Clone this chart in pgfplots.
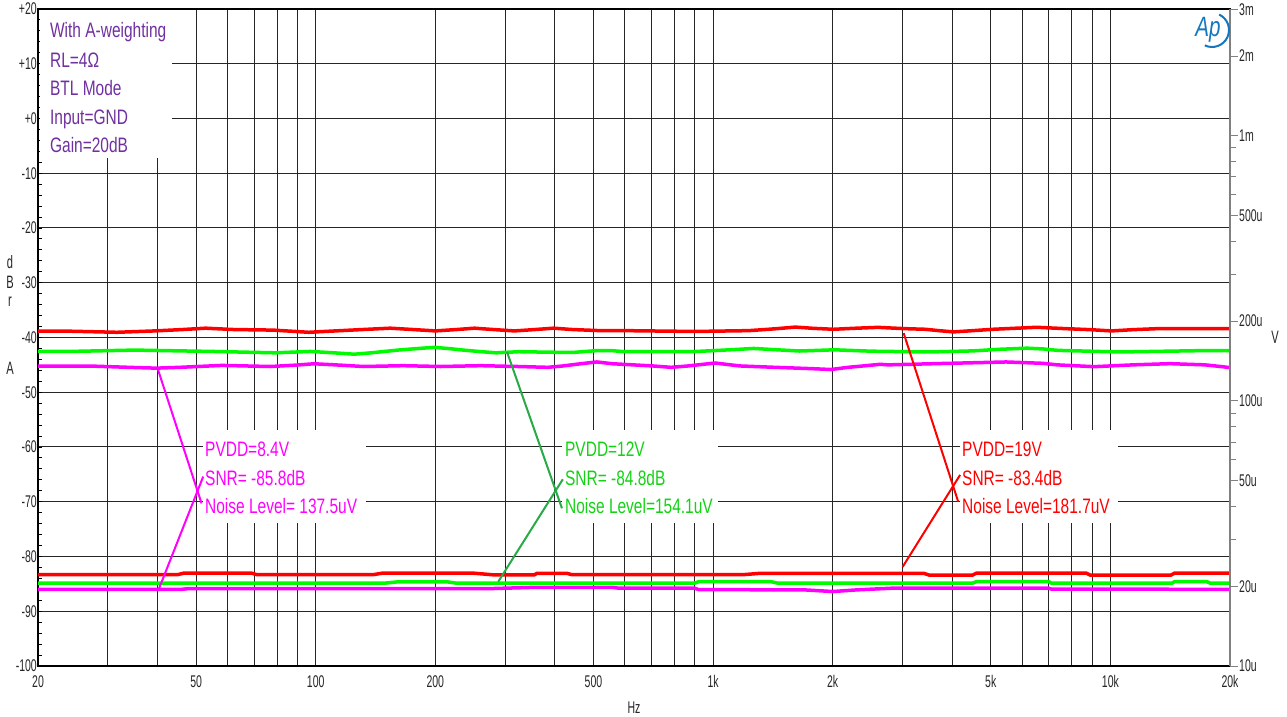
\documentclass[border=0pt]{standalone}
\usepackage{pgfplots}
\pgfplotsset{compat=1.18}
\usepackage{fontspec}
\setmainfont{Liberation Sans}[FakeStretch=0.74]
\newfontfamily\tickfont{Liberation Sans}[FakeStretch=0.62]
\definecolor{apred}{RGB}{255,0,0}
\definecolor{apgreen}{RGB}{0,250,0}
\definecolor{apmag}{RGB}{255,0,255}
\definecolor{txtgreen}{RGB}{20,210,20}
\definecolor{leadgreen}{RGB}{40,170,70}
\definecolor{purp}{RGB}{112,48,160}
\definecolor{apblue}{RGB}{20,120,190}
\begin{document}
\begin{tikzpicture}[x=1bp,y=1bp]
\path[use as bounding box] (-38,-51) rectangle (1249,666);
\begin{axis}[
  at={(0,0)}, anchor=south west,
  scale only axis, width=1192bp, height=657bp,
  xmode=log, xmin=20, xmax=20000, ymin=-100, ymax=20,
  xtick={20,50,100,200,500,1000,2000,5000,10000,20000},
  xticklabels={20,50,100,200,500,1k,2k,5k,10k,20k},
  minor xtick={30,40,60,70,80,90,300,400,600,700,800,900,3000,4000,6000,7000,8000,9000},
  ytick={-100,-90,-80,-70,-60,-50,-40,-30,-20,-10,0,10,20},
  yticklabels={-100,-90,-80,-70,-60,-50,-40,-30,-20,-10,+0,+10,+20},
  minor y tick num=4,
  xmajorgrids, xminorgrids, ymajorgrids,
  major grid style={black!85, line width=1bp},
  minor grid style={black!85, line width=1bp},
  tick align=inside,
  xtick style={draw=none},
  ytick style={black, line width=0.9bp},
  major tick length=4bp, minor tick length=4bp,
  ytick pos=left, xtick pos=bottom,
  axis line style={black, line width=1.2bp},
  xticklabel style={font=\tickfont\fontsize{17}{17}\selectfont, yshift=-6bp, text=black!85},
  yticklabel style={font=\tickfont\fontsize{17}{17}\selectfont, inner sep=1bp, text=black!85},
  clip=true,
]
% top-left info box
\fill[white] (rel axis cs:0.0015,0.7732) rectangle (rel axis cs:0.1124,0.998);
\node[anchor=base west, text=purp, font=\fontsize{21}{21}\selectfont, inner sep=0pt] at (rel axis cs:0.010,0.9566) {With A-weighting};
\node[anchor=base west, text=purp, font=\fontsize{21}{21}\selectfont, inner sep=0pt] at (rel axis cs:0.010,0.9110) {RL=4Ω};
\node[anchor=base west, text=purp, font=\fontsize{21}{21}\selectfont, inner sep=0pt] at (rel axis cs:0.010,0.8684) {BTL Mode};
\node[anchor=base west, text=purp, font=\fontsize{21}{21}\selectfont, inner sep=0pt] at (rel axis cs:0.010,0.8242) {Input=GND};
\node[anchor=base west, text=purp, font=\fontsize{21}{21}\selectfont, inner sep=0pt] at (rel axis cs:0.010,0.7816) {Gain=20dB};
% annotation boxes
\fill[white] (rel axis cs:0.1384,0.2177) rectangle (rel axis cs:0.2752,0.3592);
\fill[white] (rel axis cs:0.4396,0.2177) rectangle (rel axis cs:0.5705,0.3592);
\fill[white] (rel axis cs:0.7735,0.2177) rectangle (rel axis cs:0.9060,0.3592);
% series
\addplot[apred, line width=3.5bp] coordinates {(20,-38.85) (24,-38.85) (31.6,-39.05) (39.3,-38.8) (46.2,-38.55) (52.8,-38.3) (62.3,-38.55) (78,-38.65) (96,-39.05) (112,-38.8) (131,-38.55) (154,-38.3) (176,-38.55) (200,-38.8) (226,-38.55) (251,-38.3) (280,-38.55) (316,-38.8) (356,-38.55) (397,-38.3) (443,-38.55) (520,-38.75) (600,-38.75) (900,-38.9) (1230,-38.75) (1380,-38.5) (1480,-38.33) (1610,-38.1) (1790,-38.33) (2010,-38.5) (2250,-38.33) (2600,-38.15) (3020,-38.38) (3420,-38.5) (3700,-38.75) (4030,-38.98) (4510,-38.75) (5070,-38.5) (5700,-38.33) (6520,-38.14) (7690,-38.38) (8890,-38.57) (10070,-38.8) (11400,-38.57) (13000,-38.4) (20000,-38.4)};
\addplot[apgreen, line width=3.5bp] coordinates {(20,-42.55) (24,-42.55) (35,-42.3) (55,-42.55) (79,-42.8) (97,-42.55) (111,-42.8) (125,-43.05) (138,-42.8) (149,-42.55) (161,-42.3) (178,-42.05) (199,-41.8) (218,-42.05) (235,-42.3) (257,-42.55) (284,-42.8) (324,-42.6) (400,-42.7) (450,-42.7) (505,-42.42) (560,-42.42) (600,-42.6) (880,-42.6) (990,-42.42) (1135,-42.2) (1265,-42.0) (1410,-42.2) (1650,-42.47) (2020,-42.25) (2500,-42.5) (3500,-42.65) (4500,-42.45) (5280,-42.15) (6170,-41.95) (6790,-42.1) (7360,-42.35) (10500,-42.65) (17000,-42.4) (20000,-42.4)};
\addplot[apmag, line width=3.5bp] coordinates {(20,-45.25) (28,-45.25) (35.5,-45.5) (39.7,-45.6) (45.5,-45.45) (58,-45.1) (77,-45.3) (89,-45.05) (99,-44.8) (112,-45.0) (132,-45.3) (166,-45.15) (206,-45.3) (260,-45.15) (323,-45.3) (384,-45.45) (419,-45.2) (452,-44.9) (482,-44.66) (510,-44.47) (560,-44.8) (629,-45.0) (706,-45.2) (784,-45.45) (865,-45.2) (944,-44.9) (1012,-44.66) (1078,-44.9) (1169,-45.2) (1433,-45.45) (1785,-45.7) (1981,-45.85) (2187,-45.45) (2385,-45.2) (2633,-44.9) (2760,-45.0) (3620,-44.78) (5465,-44.47) (6770,-44.72) (7340,-45.0) (9100,-45.33) (11400,-45.0) (14130,-44.78) (17310,-45.0) (19100,-45.33) (20000,-45.5)};
\addplot[apred, line width=3.5bp] coordinates {(20,-83.3) (45,-83.3) (46.5,-83.05) (69,-83.05) (71,-83.3) (140,-83.3) (147,-83.05) (250,-83.05) (280,-83.35) (355,-83.35) (360,-83.1) (430,-83.1) (440,-83.3) (1200,-83.3) (1300,-83.1) (3400,-83.1) (3500,-83.4) (4500,-83.4) (4600,-83.05) (8700,-83.05) (8900,-83.4) (14200,-83.4) (14500,-83.05) (20000,-83.05)};
\addplot[apgreen, line width=3.5bp] coordinates {(20,-84.85) (150,-84.85) (160,-84.65) (215,-84.65) (225,-84.85) (900,-84.85) (920,-84.6) (1400,-84.6) (1450,-84.85) (4500,-84.85) (4600,-84.6) (7000,-84.6) (7100,-84.85) (14300,-84.85) (14500,-84.6) (17500,-84.6) (17800,-84.85) (20000,-84.85)};
\addplot[apmag, line width=3.5bp] coordinates {(20,-86.0) (46,-86.0) (48,-85.85) (280,-85.85) (350,-85.65) (560,-85.65) (580,-85.8) (900,-85.8) (920,-86.05) (1700,-86.1) (2000,-86.4) (2300,-86.1) (2800,-85.8) (7000,-85.8) (7100,-85.95) (20000,-86.0)};
% annotation texts
\node[anchor=base west, text=apmag, font=\fontsize{21}{21}\selectfont, inner sep=0pt] at (rel axis cs:0.1401,0.3189) {PVDD=8.4V};
\node[anchor=base west, text=apmag, font=\fontsize{21}{21}\selectfont, inner sep=0pt] at (rel axis cs:0.1401,0.2747) {SNR= -85.8dB};
\node[anchor=base west, text=apmag, font=\fontsize{21}{21}\selectfont, inner sep=0pt] at (rel axis cs:0.1401,0.2321) {Noise Level= 137.5uV};
\node[anchor=base west, text=txtgreen, font=\fontsize{21}{21}\selectfont, inner sep=0pt] at (rel axis cs:0.4421,0.3189) {PVDD=12V};
\node[anchor=base west, text=txtgreen, font=\fontsize{21}{21}\selectfont, inner sep=0pt] at (rel axis cs:0.4421,0.2747) {SNR= -84.8dB};
\node[anchor=base west, text=txtgreen, font=\fontsize{21}{21}\selectfont, inner sep=0pt] at (rel axis cs:0.4421,0.2321) {Noise Level=154.1uV};
\node[anchor=base west, text=apred, font=\fontsize{21}{21}\selectfont, inner sep=0pt] at (rel axis cs:0.7752,0.3189) {PVDD=19V};
\node[anchor=base west, text=apred, font=\fontsize{21}{21}\selectfont, inner sep=0pt] at (rel axis cs:0.7752,0.2747) {SNR= -83.4dB};
\node[anchor=base west, text=apred, font=\fontsize{21}{21}\selectfont, inner sep=0pt] at (rel axis cs:0.7752,0.2321) {Noise Level=181.7uV};
% leader lines
\draw[apmag, line width=2bp] (axis cs:40.1,-45.9) -- (axis cs:51.6,-70.3);
\draw[apmag, line width=2bp] (axis cs:40.2,-86.1) -- (axis cs:52.1,-65.4);
\draw[leadgreen, line width=2bp] (axis cs:303,-42.65) -- (axis cs:416.6,-71.2);
\draw[leadgreen, line width=2bp] (axis cs:288,-84.6) -- (axis cs:418.7,-65.9);
\draw[apred, line width=2bp] (axis cs:3018,-39.2) -- (axis cs:4140,-70.0);
\draw[apred, line width=2bp] (axis cs:3000,-81.9) -- (axis cs:4186,-65.1);
\end{axis}
\begin{axis}[
  at={(0,0)}, anchor=south west,
  scale only axis, width=1192bp, height=657bp,
  xmode=log, xmin=20, xmax=20000,
  ymode=log, ymin=1e-5, ymax=3.01e-3,
  axis x line=none, axis y line*=right,
  ytick={1e-5,2e-5,5e-5,1e-4,2e-4,5e-4,1e-3,2e-3,3e-3},
  yticklabels={10u,20u,50u,100u,200u,500u,1m,2m,3m},
  minor ytick={3e-5,4e-5,6e-5,7e-5,8e-5,9e-5,3e-4,4e-4,6e-4,7e-4,8e-4,9e-4},
  tick align=outside,
  major tick length=8bp, minor tick length=6bp,
  ytick style={black!50, line width=1bp},
  axis line style={black!50, line width=2bp},
  yticklabel style={font=\tickfont\fontsize{17}{17}\selectfont, inner sep=1bp, text=black!85},
]
\end{axis}
% outer labels
\node[font=\tickfont\fontsize{18}{18}\selectfont, text=black!85] at (-28,404) {d};
\node[font=\tickfont\fontsize{18}{18}\selectfont, text=black!85] at (-28,384) {B};
\node[font=\tickfont\fontsize{18}{18}\selectfont, text=black!85] at (-28,364) {r};
\node[font=\tickfont\fontsize{18}{18}\selectfont, text=black!85] at (-28,298) {A};
\node[font=\tickfont\fontsize{18}{18}\selectfont, text=black!85] at (1237,329) {V};
\node[font=\tickfont\fontsize{17}{17}\selectfont, text=black!85] at (596,-42) {Hz};
% Ap logo
\node[font=\fontsize{28}{28}\selectfont\itshape, text=apblue] at (1170,636) {Ap};
\draw[apblue, line width=2bp] (1174,636) ++(65:17) arc[start angle=65, end angle=-115, radius=17];
\end{tikzpicture}
\end{document}
